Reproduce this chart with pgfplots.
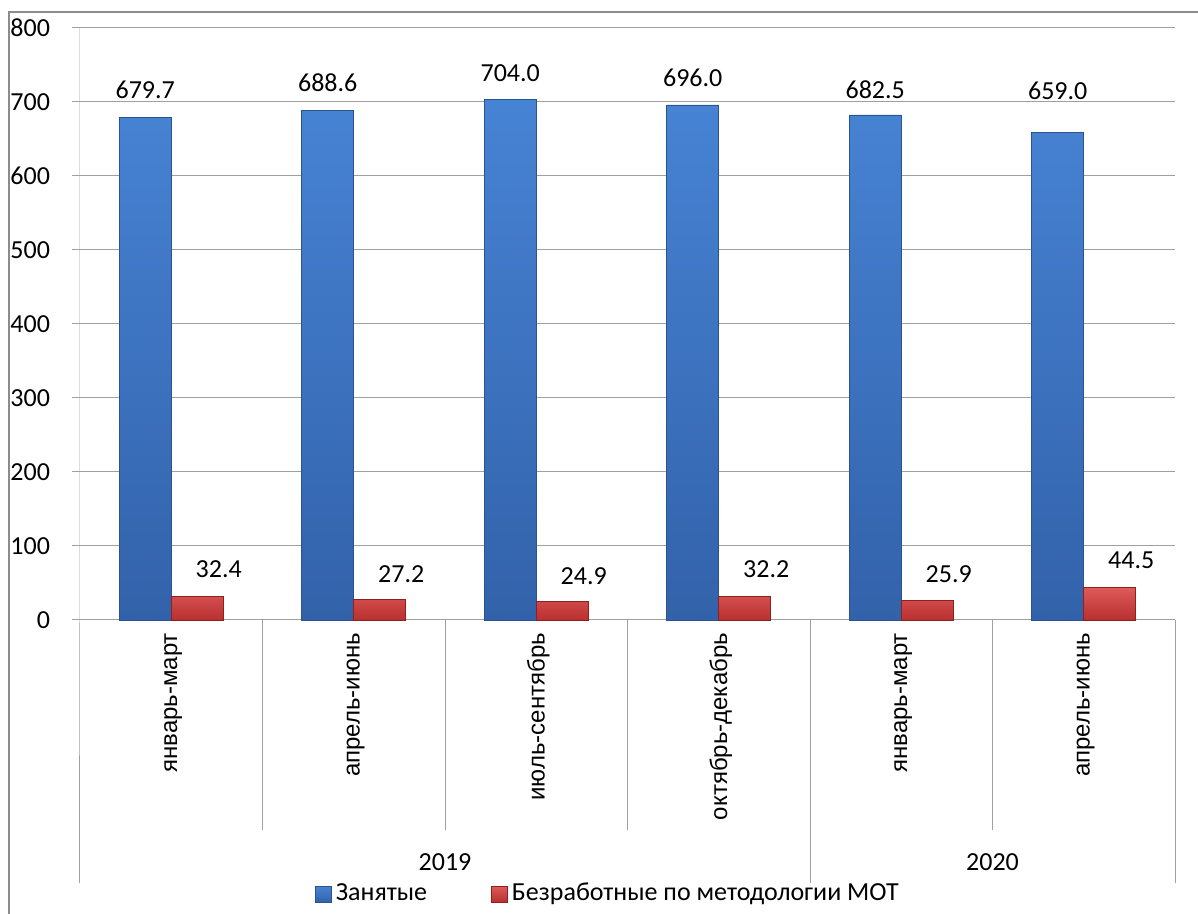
\documentclass[border=0pt]{standalone}
\usepackage{fontspec}
\setmainfont{Carlito}
\newfontfamily\arialf{Liberation Sans}
\usepackage{pgfplots}
\pgfplotsset{compat=1.18}
\definecolor{blueT}{HTML}{4783D4}
\definecolor{blueB}{HTML}{3262AA}
\definecolor{blueE}{HTML}{2A538F}
\definecolor{redT}{HTML}{E05A5A}
\definecolor{redB}{HTML}{B83030}
\definecolor{redE}{HTML}{8E2020}
\definecolor{gridc}{HTML}{A0A0A0}
\definecolor{framec}{HTML}{8C8C8C}
\pgfplotsset{sqlegend/.style={legend image code/.code={\draw[##1] (0pt,-4pt) rectangle (8pt,4pt);}}}

\begin{document}
\fontsize{13}{15}\selectfont
\begin{tikzpicture}
\useasboundingbox (-40pt,-147pt) rectangle (559pt,310pt);
\draw[framec, line width=1pt] (-35.5pt,-150pt) -- (-35.5pt,304pt) -- (565pt,304pt);
\begin{axis}[
  width=547.5pt, height=296pt, scale only axis,
  xmin=-0.5, xmax=5.5, ymin=0, ymax=800,
  ytick={0,100,...,800},
  xtick={0,...,5},
  xticklabels={январь-март,апрель-июнь,июль-сентябрь,октябрь-декабрь,январь-март,апрель-июнь},
  xticklabel style={rotate=90, anchor=east, font=\arialf\fontsize{12}{14}\selectfont, xshift=2pt, yshift=-1pt},
  axis line style={draw=none},
  x tick style={draw=none},
  y tick style={gridc, line width=0.5pt},
  ytick pos=left,
  tick align=outside,
  major tick length=4pt,
  ymajorgrids, grid style={gridc, line width=0.5pt},
  /pgf/number format/assume math mode=true,
  yticklabel style={font=\fontsize{13}{15}\selectfont, xshift=-6.5pt},
  clip=false,
  legend style={at={(0.483,-0.463)}, anchor=center, draw=none, fill=none,
    legend columns=2, font=\fontsize{13}{15}\selectfont,
    /tikz/every even column/.append style={column sep=30pt}},
]
\addplot[ybar, bar width=26pt, bar shift=-13pt, top color=blueT, bottom color=blueB, draw=blueE, line width=0.4pt, sqlegend]
  coordinates {(0,679.7) (1,688.6) (2,704.0) (3,696.0) (4,682.5) (5,659.0)};
\addplot[ybar, bar width=26pt, bar shift=13pt, top color=redT, bottom color=redB, draw=redE, line width=0.4pt, sqlegend]
  coordinates {(0,32.4) (1,27.2) (2,24.9) (3,32.2) (4,25.9) (5,44.5)};
\legend{Занятые, Безработные по методологии МОТ}
% value labels, placed where the original chart puts them
\addplot[forget plot, only marks, mark=*, mark size=0pt, mark options={draw=none, fill=none},
  nodes near coords, point meta=explicit symbolic,
  every node near coord/.append style={anchor=center, font=\fontsize{13}{15}\selectfont}]
  coordinates {(-0.1425,716.2)[679.7] (0.8575,725.7)[688.6] (1.8575,739.2)[704.0]
               (2.8575,732.4)[696.0] (3.8575,716.2)[682.5] (4.8575,714.9)[659.0]};
\addplot[forget plot, only marks, mark=*, mark size=0pt, mark options={draw=none, fill=none},
  nodes near coords, point meta=explicit symbolic,
  every node near coord/.append style={anchor=center, font=\fontsize{13}{15}\selectfont}]
  coordinates {(0.26,68.9)[32.4] (1.26,62.2)[27.2] (2.26,59.5)[24.9]
               (3.26,68.9)[32.2] (4.26,62.2)[25.9] (5.26,81.1)[44.5]};
% category separators and group labels
\draw[gridc, line width=0.5pt] (axis cs:-0.5,800) -- (axis cs:-0.5,0) -- ++(0pt,-131.5pt);
\draw[gridc, line width=0.5pt] (axis cs:0.5,0) -- ++(0pt,-105pt);
\draw[gridc, line width=0.5pt] (axis cs:1.5,0) -- ++(0pt,-105pt);
\draw[gridc, line width=0.5pt] (axis cs:2.5,0) -- ++(0pt,-105pt);
\draw[gridc, line width=0.5pt] (axis cs:4.5,0) -- ++(0pt,-105pt);
\draw[gridc, line width=0.5pt] (axis cs:3.5,0) -- ++(0pt,-131.5pt);
\draw[gridc, line width=0.5pt] (axis cs:5.5,0) -- ++(0pt,-131.5pt);
\node at ([yshift=-121pt]axis cs:1.5,0) {2019};
\node at ([yshift=-121pt]axis cs:4.5,0) {2020};
\end{axis}
\end{tikzpicture}
\end{document}
